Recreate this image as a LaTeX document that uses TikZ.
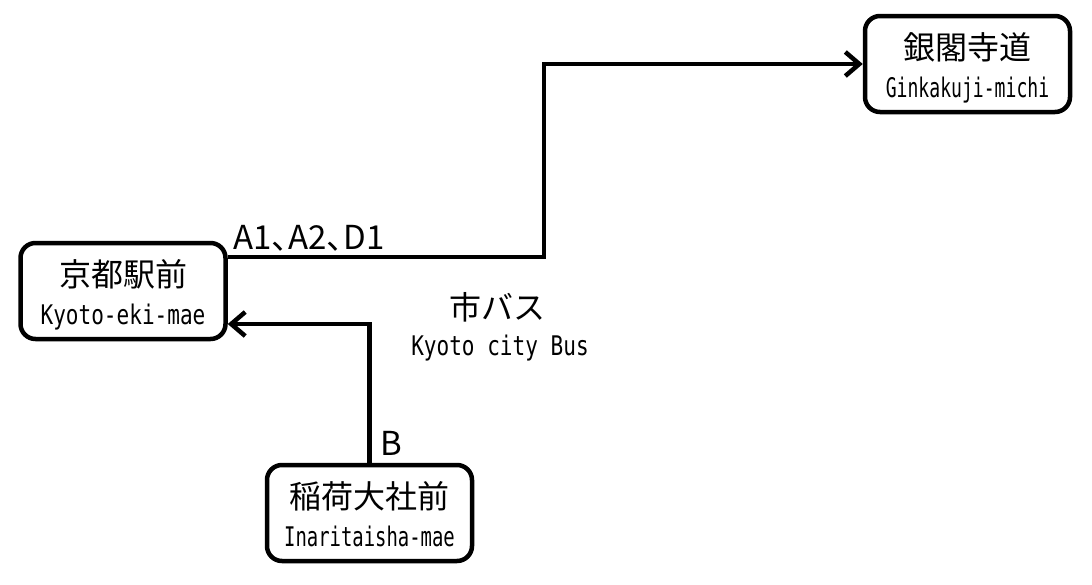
\documentclass[tikz,border=0pt]{standalone}
\usepackage{fontspec}
\usepackage{graphicx}
\usetikzlibrary{
  arrows.meta,
  calc
}
\newfontfamily\jpfont{Noto Sans CJK JP}
\newfontfamily\jplabelfont[RawFeature=+palt]{Noto Sans CJK JP}
\newfontfamily\rmjfont{DejaVu Sans Mono}
\newcommand{\jptext}[1]{{\jpfont\fontsize{32}{36}\selectfont #1}}
\newcommand{\rmjtext}[2]{\scalebox{#1}[1]{\rmjfont\fontsize{27}{30}\selectfont #2}}
\tikzset{
  stop/.style={draw,line width=4.5pt,rounded corners=15pt,
    minimum width=205pt,minimum height=96pt,inner sep=0pt},
  route/.style={line width=4.5pt,-{Straight Barb[length=14pt,width=24pt]}},
  linelabel/.style={anchor=base,font=\jplabelfont\fontsize{33}{36}\selectfont}
}
\newcommand{\station}[5]{%
  \node[stop] (#1) at (#2) {};%
  \node[anchor=base] (#1-jp) at ($(#1.center)+(0,-5)$) {\jptext{#3}};%
  \node[anchor=base] (#1-en) at ($(#1.center)+(0,33)$) {\rmjtext{#5}{#4}};%
}

\begin{document}
\begin{tikzpicture}[x=1pt,y=-1pt]
  \fill[white] (0,0) rectangle (1092,584);
  \station{kyoto}{123,291}{京都駅前}{Kyoto-eki-mae}{0.78}
  \station{ginkaku}{967.5,64}{銀閣寺道}{Ginkakuji-michi}{0.67}
  \station{inari}{369.5,513}{稲荷大社前}{Inaritaisha-mae}{0.70}
  \coordinate (turn) at (544,0);
  \draw[route] ([yshift=34pt]kyoto.east) -| (turn |- ginkaku.west) -- (ginkaku.west);
  \draw[route] (inari.north) |- ([yshift=-33pt]kyoto.east);
  \node[linelabel] (lineA) at (309,249) {A1、A2、D1};
  \node[linelabel] (lineB) at (391,455) {B};
  \node[anchor=base] (bus-jp) at (497,319) {\jptext{市バス}};
  \node[anchor=base] (bus-en) at (500,355) {\rmjtext{0.78}{Kyoto city Bus}};
\end{tikzpicture}
\end{document}
